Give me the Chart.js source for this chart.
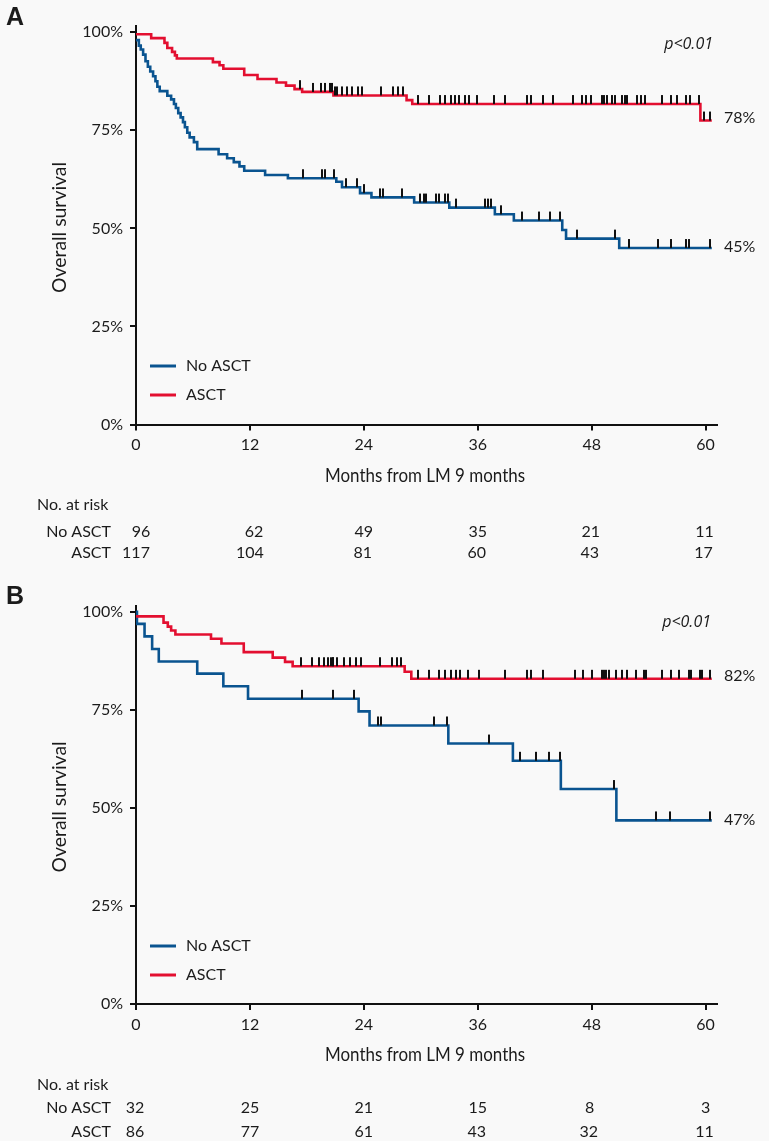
<!DOCTYPE html>
<html><head><meta charset="utf-8">
<script src="https://cdn.jsdelivr.net/npm/chart.js@4.4.1/dist/chart.umd.min.js"></script>
<style>
html,body{margin:0;padding:0;background:#f9f9f9;}
#wrap{position:relative;width:769px;height:1141px;background:#f9f9f9;overflow:hidden;}
canvas{position:absolute;left:0;}
</style></head><body>
<div id="wrap">
<canvas id="cA" width="769" height="575" style="top:0px"></canvas>
<canvas id="cB" width="769" height="566" style="top:575px"></canvas>
</div>
<script>
// ---------------- DATA ----------------
const seriesNames = ['No ASCT', 'ASCT'];
const riskTimes = [0, 12, 24, 36, 48, 60];
const endTime = 60.65;

// Panel A
const A_noAsct_t = [0,0.3,0.5,0.75,1.0,1.25,1.5,1.8,2.05,2.25,2.5,3.3,3.7,4.0,4.2,4.45,4.7,4.95,5.15,5.4,5.65,6.1,6.45,8.7,9.6,10.3,10.9,11.4,13.6,16.0,21.1,21.7,23.6,24.8,29.3,33.0,37.8,39.8,44.9,45.3,50.9];
const A_noAsct_s = [98.0,96.6,95.6,94.3,92.6,91.2,90.0,88.8,87.5,86.1,85.0,83.8,82.9,81.7,80.7,79.4,78.3,77.1,75.8,74.4,73.2,72.0,70.2,68.9,67.9,66.9,65.8,64.7,63.6,62.8,61.9,60.5,59.0,57.9,56.6,55.3,53.6,52.0,49.6,47.4,45.0];
const A_noAsct_cens = [17.6,19.6,19.9,20.9,22.1,23.3,24.0,25.7,26.0,28.0,29.9,30.3,30.5,31.6,31.9,32.5,32.9,33.7,36.8,37.1,37.4,38.4,40.7,42.4,43.6,44.7,46.5,50.5,51.9,55.0,56.4,57.9,58.2,60.5];
const A_asct_t = [0,1.6,3.0,3.3,3.8,4.1,4.3,8.1,8.8,9.2,11.4,12.8,14.8,15.8,16.7,17.5,20.8,28.5,29.1,59.45];
const A_asct_s = [99.5,98.5,97.3,96.0,95.0,94.1,93.3,92.4,91.6,90.7,89.1,88.1,87.2,86.4,85.5,84.8,83.9,82.7,81.7,77.5];
const A_asct_cens = [17.3,18.6,19.5,19.9,20.4,20.6,21.0,21.2,21.7,22.2,22.8,23.4,23.8,25.8,27.1,27.6,28.1,29.7,30.9,32.0,32.6,33.2,33.6,34.0,34.7,35.1,35.9,37.7,38.9,41.2,41.6,42.9,43.9,46.0,47.0,47.4,47.9,49.1,49.3,49.6,50.1,50.5,51.2,51.5,51.7,52.8,53.2,53.6,55.4,56.4,57.0,57.9,58.4,59.3,59.8,60.5];
const A_risk_noAsct = [96, 62, 49, 35, 21, 11];
const A_risk_asct = [117, 104, 81, 60, 43, 17];
const A_endLabels = ['45%', '78%'];

// Panel B
const B_noAsct_t = [0,0.1,0.9,1.7,2.4,6.45,9.2,11.8,23.45,24.6,32.9,39.7,44.75,50.6];
const B_noAsct_s = [100,96.9,93.7,90.5,87.3,84.2,81.0,77.8,74.6,71.0,66.4,62.0,54.8,46.8];
const B_noAsct_cens = [17.5,20.8,23.0,25.5,25.8,31.4,32.8,37.2,40.5,42.1,43.5,44.7,50.4,54.8,56.2,60.5];
const B_asct_t = [0,2.9,3.35,3.7,4.15,7.9,9.0,11.35,14.4,15.7,16.5,28.3,29.0];
const B_asct_s = [98.8,97.2,96.2,95.2,94.2,93.1,91.9,89.7,88.3,87.2,86.1,84.7,82.9];
const B_asct_cens = [17.4,18.5,19.3,19.8,20.2,20.5,20.7,20.8,21.2,21.9,22.5,23.2,23.7,25.7,27.0,27.5,27.9,29.7,30.9,31.9,32.5,33.2,33.7,34.1,35.0,36.1,38.9,41.2,41.6,42.9,46.2,47.1,48.0,49.1,49.3,49.5,49.8,50.6,51.2,51.7,52.7,53.5,53.7,55.4,56.4,57.2,58.2,58.5,59.4,59.6,60.5];
const B_risk_noAsct = [32, 25, 21, 15, 8, 3];
const B_risk_asct = [86, 77, 61, 43, 32, 11];
const B_endLabels = ['47%', '82%'];

const pText = 'p<0.01';
const yTitle = 'Overall survival';
const xTitle = 'Months from LM 9 months';
const riskHead = 'No. at risk';

// ---------------- STYLE ----------------
const BLUE = '#0a5490';
const RED = '#e30f30';
const INK = '#1b1b1b';
const FONT = 'Lato, "Noto Sans", sans-serif';

Chart.defaults.font.family = FONT;
Chart.defaults.color = INK;

const tickImg = (() => {
  const c = document.createElement('canvas');
  c.width = 2; c.height = 20;
  const g = c.getContext('2d');
  g.fillStyle = '#111';
  g.fillRect(0, 1, 2, 9);
  return c;
})();

function stepPoints(t, s) {
  const pts = t.map((x, i) => ({x: x, y: s[i]}));
  pts.push({x: endTime, y: s[s.length - 1]});
  return pts;
}
function survAt(time, t, s) {
  let v = s[0];
  for (let i = 0; i < t.length; i++) { if (t[i] <= time) v = s[i]; }
  return v;
}
function censPoints(c, t, s) {
  return c.map(x => ({x: x, y: survAt(x, t, s)}));
}
// draws text horizontally condensed to a target width (condensed face not installed)
function fitText(ctx, text, targetW) {
  const w = ctx.measureText(text).width;
  ctx.save();
  ctx.scale(targetW / w, 1);
  ctx.fillText(text, 0, 0);
  ctx.restore();
}

const textPlugin = {
  id: 'kmText',
  afterDraw(chart) {
    const T = chart.options.plugins.kmText;
    const ctx = chart.ctx;
    const xs = chart.scales.x, ys = chart.scales.y;
    ctx.save();
    ctx.fillStyle = INK;
    // panel letter
    ctx.font = 'bold 25px "Liberation Sans", Arial, sans-serif';
    ctx.textAlign = 'left'; ctx.textBaseline = 'middle';
    ctx.fillText(T.letter, 6, T.letterY);
    // p value
    ctx.font = 'italic 16px "Open Sans", sans-serif';
    ctx.textAlign = 'right';
    ctx.fillText(pText, T.pRight, T.pY);
    // end labels
    ctx.font = '16px ' + FONT;
    ctx.textAlign = 'left';
    ctx.fillText(T.endLabels[0], 724, ys.getPixelForValue(T.lastVals[0]) - 1);
    ctx.fillText(T.endLabels[1], 724, ys.getPixelForValue(T.lastVals[1]) - 3);
    // legend
    const cols = [BLUE, RED];
    for (let i = 0; i < 2; i++) {
      ctx.strokeStyle = cols[i]; ctx.lineWidth = 3;
      ctx.beginPath(); ctx.moveTo(150, T.legendY[i]); ctx.lineTo(176, T.legendY[i]); ctx.stroke();
      ctx.fillText(seriesNames[i], 186, T.legendY[i]);
    }
    // x title (condensed)
    ctx.font = '20px ' + FONT;
    ctx.textAlign = 'center';
    ctx.save();
    ctx.translate(425, T.xTitleY);
    fitText(ctx, xTitle, 200);
    ctx.restore();
    // y title (condensed, rotated)
    ctx.font = '19px ' + FONT;
    ctx.save();
    ctx.translate(T.yTitleX, (ys.top + ys.bottom) / 2 + 2);
    ctx.rotate(-Math.PI / 2);
    fitText(ctx, yTitle, 131);
    ctx.restore();
    // at risk table
    ctx.font = '16px ' + FONT;
    ctx.textAlign = 'left';
    ctx.fillText(riskHead, 37, T.riskHeadY);
    ctx.textAlign = 'right';
    ctx.fillText(seriesNames[0], 111, T.riskRowsY[0]);
    ctx.fillText(seriesNames[1], 111, T.riskRowsY[1]);
    ctx.textAlign = 'center';
    for (let i = 0; i < riskTimes.length; i++) {
      const px = xs.getPixelForValue(riskTimes[i]);
      ctx.fillText(String(T.riskNo[i]), px + T.offNo[i], T.riskRowsY[0]);
      ctx.fillText(String(T.riskAsct[i]), px + T.offAsct[i], T.riskRowsY[1]);
    }
    ctx.restore();
  }
};

function makeChart(id, D, L) {
  return new Chart(document.getElementById(id), {
    type: 'line',
    data: {
      datasets: [
        {data: censPoints(D.nc, D.nt, D.ns), showLine: false, pointStyle: tickImg, pointRadius: 3, order: 0},
        {data: censPoints(D.ac, D.at, D.as), showLine: false, pointStyle: tickImg, pointRadius: 3, order: 0},
        {data: stepPoints(D.nt, D.ns), stepped: true, borderColor: BLUE, borderWidth: 2.6, pointRadius: 0, fill: false, order: 2},
        {data: stepPoints(D.at, D.as), stepped: true, borderColor: RED, borderWidth: 2.6, pointRadius: 0, fill: false, order: 1}
      ]
    },
    options: {
      responsive: false, animation: false, devicePixelRatio: 1,
      events: [],
      layout: {padding: {left: 0, right: 52, top: L.top, bottom: 0}},
      plugins: {
        legend: {display: false}, tooltip: {enabled: false},
        kmText: L.text
      },
      scales: {
        x: {
          type: 'linear', min: 0, max: 61.2,
          border: {display: true, color: '#111', width: 2},
          grid: {display: true, drawOnChartArea: false, drawTicks: true, tickLength: 6, color: '#111', lineWidth: 2},
          ticks: {stepSize: 12, includeBounds: false, autoSkip: false, maxRotation: 0, padding: 5,
                  font: {size: 16, family: FONT}, color: INK, callback: v => String(v)},
          afterFit: s => { s.height = L.xH; }
        },
        y: {
          type: 'linear', min: 0, max: 101.5,
          border: {display: true, color: '#111', width: 2},
          grid: {display: true, drawOnChartArea: false, drawTicks: true, tickLength: 6, color: '#111', lineWidth: 2},
          ticks: {stepSize: 25, includeBounds: false, padding: 7,
                  font: {size: 16, family: FONT}, color: INK, callback: v => v + '%'},
          afterFit: s => { s.width = 136; }
        }
      }
    },
    plugins: [textPlugin]
  });
}

makeChart('cA',
  {nt: A_noAsct_t, ns: A_noAsct_s, nc: A_noAsct_cens, at: A_asct_t, as: A_asct_s, ac: A_asct_cens},
  {top: 26.4, xH: 150.5,
   text: {letter: 'A', letterY: 18, pRight: 713, pY: 44,
          endLabels: A_endLabels, lastVals: [A_noAsct_s[A_noAsct_s.length - 1], A_asct_s[A_asct_s.length - 1]],
          legendY: [366, 395], xTitleY: 476, yTitleX: 60,
          riskHeadY: 505, riskRowsY: [531.5, 552.5],
          riskNo: A_risk_noAsct, riskAsct: A_risk_asct,
          offNo: [5, 4, 0, 0, -1, -1], offAsct: [0, 0, -1, -1, -2, -2]}});

makeChart('cB',
  {nt: B_noAsct_t, ns: B_noAsct_s, nc: B_noAsct_cens, at: B_asct_t, as: B_asct_s, ac: B_asct_cens},
  {top: 30.8, xH: 137,
   text: {letter: 'B', letterY: 22, pRight: 711, pY: 47,
          endLabels: B_endLabels, lastVals: [B_noAsct_s[B_noAsct_s.length - 1], B_asct_s[B_asct_s.length - 1]],
          legendY: [371, 400], xTitleY: 480, yTitleX: 60,
          riskHeadY: 510, riskRowsY: [533, 557],
          riskNo: B_risk_noAsct, riskAsct: B_risk_asct,
          offNo: [-1, 0, 0, 0, -2, 0], offAsct: [-1, 0, 0, -1, -3, -1]}});
</script>
</body></html>
